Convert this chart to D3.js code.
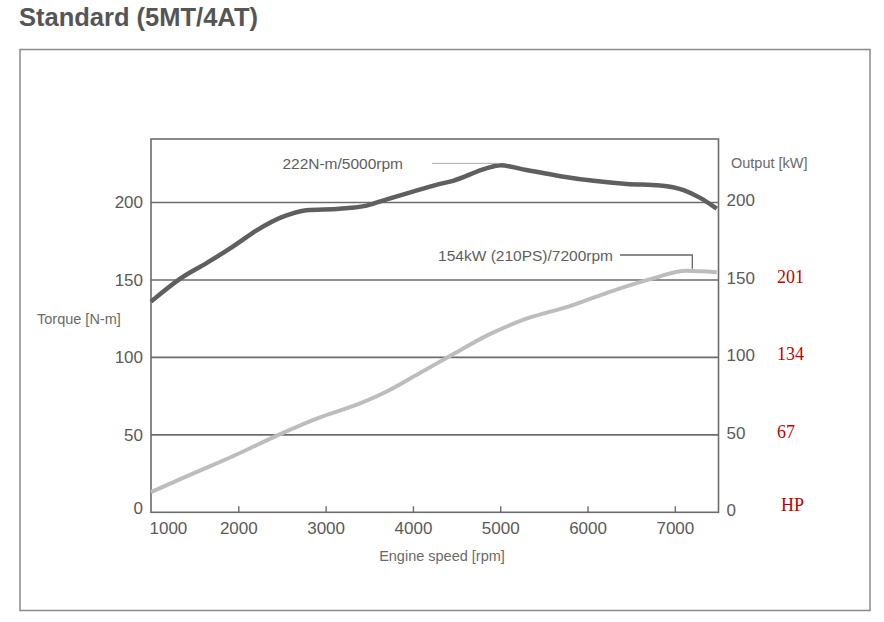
<!DOCTYPE html>
<html>
<head>
  <title>Standard (5MT/4AT) engine curve</title>
  <script src="https://d3js.org/d3.v7.min.js"></script>
  <style>
    body { margin: 0; background: #fff; }
    .chart { font-family: "Liberation Sans", Arial, sans-serif; }
    .tick-label { font-size: 17px; fill: #5a5a5a; }
    .axis-title { font-size: 14.5px; fill: #6a6a6a; }
    .note { font-size: 15.5px; fill: #5e5e5e; }
    .hp { font-family: "Liberation Serif", "Times New Roman", serif; font-size: 18px; fill: #c40000; }
  </style>
</head>
<body>
  <svg class="chart" width="884" height="622"></svg>

  <script>
    // torque curve (N-m)
    const torqueRpm = [1000, 1340, 1640, 1950, 2210, 2520, 2780, 3160, 3470, 3700, 4000, 4310, 4460, 4840, 5000, 5300, 5690, 6070, 6450, 6830, 7100, 7290, 7480];
    const torque    = [136, 151, 161, 172, 182, 191, 195, 196, 198, 202, 207, 212, 214, 222, 224, 221, 217, 214, 212, 211, 208, 203, 196];

    // output curve (kW)
    const powerRpm = [1000, 1440, 1970, 2460, 2920, 3380, 3700, 4080, 4460, 4880, 5300, 5790, 6290, 6750, 7130, 7480];
    const power    = [13, 24, 37, 50, 61, 70, 78, 90, 102, 115, 125, 133, 143, 151, 156, 155];

    const rpmTicks = [1000, 2000, 3000, 4000, 5000, 6000, 7000];
    const valueTicks = [0, 50, 100, 150, 200];
    const gridValues = [50, 100, 150, 200];

    // hand-written HP equivalents beside the kW axis
    const hpAt = [0, 50, 100, 150];
    const hpLabels = ["HP", "67", "134", "201"];

    const svg = d3.select("svg");

    const x = d3.scaleLinear().domain([1000, 7500]).range([151, 718.5]);
    const y = d3.scaleLinear().domain([0, 241]).range([512.3, 139]);

    // title and outer frame
    svg.append("text")
      .attr("x", 19).attr("y", 26)
      .attr("font-size", 25.5).attr("font-weight", "bold")
      .attr("fill", "#555")
      .text("Standard (5MT/4AT)");

    svg.append("rect")
      .attr("x", 20).attr("y", 49.5)
      .attr("width", 850).attr("height", 561)
      .attr("fill", "none").attr("stroke", "#8a8a8a").attr("stroke-width", 1.5);

    // horizontal grid
    svg.append("g").selectAll("line")
      .data(gridValues)
      .enter().append("line")
      .attr("x1", x.range()[0]).attr("x2", x.range()[1])
      .attr("y1", d => y(d)).attr("y2", d => y(d))
      .attr("stroke", "#6c6c6c").attr("stroke-width", 1.6);

    // plot frame (top, left, right, bottom)
    svg.append("rect")
      .attr("x", x.range()[0]).attr("y", y.range()[1])
      .attr("width", x.range()[1] - x.range()[0])
      .attr("height", y.range()[0] - y.range()[1])
      .attr("fill", "none").attr("stroke", "#6c6c6c").attr("stroke-width", 1.6);

    // axes
    const left = svg.append("g")
      .attr("transform", `translate(${x.range()[0]},0)`)
      .call(d3.axisLeft(y).tickValues(valueTicks).tickSize(0).tickPadding(8));

    const right = svg.append("g")
      .attr("transform", `translate(${x.range()[1]},0)`)
      .call(d3.axisRight(y).tickValues(valueTicks).tickSize(0).tickPadding(8));

    const bottom = svg.append("g")
      .attr("transform", `translate(0,${y.range()[0]})`)
      .call(d3.axisBottom(x).tickValues(rpmTicks).tickSize(-6).tickPadding(10).tickFormat(d3.format("d")));

    [left, right, bottom].forEach(g => {
      g.select(".domain").remove();
      g.selectAll(".tick line").attr("stroke", "#6c6c6c").attr("stroke-width", 1.4);
      g.selectAll(".tick text").attr("class", "tick-label").attr("font-family", null).attr("font-size", null).attr("fill", null);
    });
    right.selectAll(".tick text").attr("dy", "0.2em");
    left.selectAll(".tick text").filter(d => d === 0).attr("dy", "0.05em");
    bottom.selectAll(".tick text").filter(d => d === 1000)
      .attr("text-anchor", "start").attr("x", -2);
    bottom.selectAll(".tick").filter(d => d === 1000).select("line").remove();

    // axis titles
    svg.append("text").attr("class", "axis-title")
      .attr("x", 442).attr("y", 561).attr("text-anchor", "middle")
      .text("Engine speed [rpm]");
    svg.append("text").attr("class", "axis-title")
      .attr("x", 37).attr("y", 324)
      .text("Torque [N-m]");
    svg.append("text").attr("class", "axis-title")
      .attr("x", 731).attr("y", 168)
      .text("Output [kW]");

    // curves
    const line = d3.line().curve(d3.curveMonotoneX);

    svg.append("path")
      .attr("d", line(powerRpm.map((r, i) => [x(r), y(power[i])])))
      .attr("fill", "none").attr("stroke", "#bdbdbd").attr("stroke-width", 4)
      .attr("stroke-linecap", "butt");

    svg.append("path")
      .attr("d", line(torqueRpm.map((r, i) => [x(r), y(torque[i])])))
      .attr("fill", "none").attr("stroke", "#5f5f5f").attr("stroke-width", 4.5)
      .attr("stroke-linecap", "butt");

    // peak annotations
    const tPeakY = y(224) - 2;
    svg.append("line")
      .attr("x1", 432).attr("x2", x(5000))
      .attr("y1", tPeakY).attr("y2", tPeakY)
      .attr("stroke", "#aaa").attr("stroke-width", 1);
    svg.append("text").attr("class", "note")
      .attr("x", 403).attr("y", tPeakY + 6).attr("text-anchor", "end")
      .attr("font-size", 16.5)
      .text("222N-m/5000rpm");

    const pLeaderY = 255;
    svg.append("path")
      .attr("d", `M620,${pLeaderY}H${x(7200)}V${y(156) - 2}`)
      .attr("fill", "none").attr("stroke", "#666").attr("stroke-width", 1.3);
    svg.append("text").attr("class", "note")
      .attr("x", 613).attr("y", pLeaderY + 6).attr("text-anchor", "end")
      .text("154kW (210PS)/7200rpm");

    // HP notes
    svg.append("g").selectAll("text")
      .data(hpAt)
      .enter().append("text")
      .attr("class", "hp")
      .attr("x", (d, i) => i === 0 ? 781 : 777)
      .attr("y", (d, i) => y(d) + (i === 0 ? -1.5 : 3))
      .text((d, i) => hpLabels[i]);
  </script>
</body>
</html>
